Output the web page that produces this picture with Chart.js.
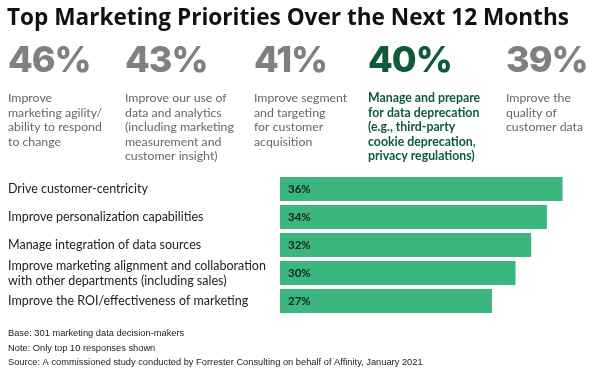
<!DOCTYPE html>
<html>
<head>
<meta charset="utf-8">
<script src="https://cdn.jsdelivr.net/npm/chart.js@4/dist/chart.umd.min.js"></script>
<style>
  html, body { margin: 0; padding: 0; background: #fff; }
  #wrap { position: relative; width: 600px; height: 375px; }
</style>
</head>
<body>
<div id="wrap"><canvas id="chart" width="600" height="375"></canvas></div>
<script>
/* ------------------------------------------------ */

let TITLE = 'Top Marketing Priorities Over the Next 12 Months';

// top five priorities (big numbers)
let topValues = [46, 43, 41, 40, 39];
let topLabels = [
  ['Improve', 'marketing agility/', 'ability to respond', 'to change'],
  ['Improve our use of', 'data and analytics', '(including marketing', 'measurement and', 'customer insight)'],
  ['Improve segment', 'and targeting', 'for customer', 'acquisition'],
  ['Manage and prepare', 'for data deprecation', '(e.g., third-party', 'cookie deprecation,', 'privacy regulations)'],
  ['Improve the', 'quality of', 'customer data'],
];
let topHighlight = 3;

// priorities 6-10 (bars)
let categories = [
  'Drive customer-centricity',
  'Improve personalization capabilities',
  'Manage integration of data sources',
  ['Improve marketing alignment and collaboration', 'with other departments (including sales)'],
  'Improve the ROI/effectiveness of marketing',
];
let values = [36, 34, 32, 30, 27];

let notes = [
  'Base: 301 marketing data decision-makers',
  'Note: Only top 10 responses shown',
  'Source: A commissioned study conducted by Forrester Consulting on behalf of Affinity, January 2021',
];

/* ------------------------------------------------ */

let GREEN = '#3bb67f';
let DARK_GREEN = '#0e5a3b';
let GRAY = '#808080';

let textPlugin = {
  id: 'textPlugin',
  afterDraw(chart) {
    let ctx = chart.ctx;
    ctx.save();
    ctx.textBaseline = 'alphabetic';
    ctx.textAlign = 'left';

    // title
    ctx.fillStyle = '#111';
    ctx.font = 'bold 22.6px "Open Sans"';
    ctx.fillText(TITLE, 7, 25);

    // big numbers + descriptions
    let colX = [8, 125, 254, 368, 506];
    topValues.forEach((v, i) => {
      let hl = i == topHighlight;
      ctx.fillStyle = hl ? DARK_GREEN : GRAY;
      ctx.font = '800 36px Inter';
      ctx.letterSpacing = '-1px';
      ctx.fillText(v + '%', colX[i], 72);
      ctx.letterSpacing = '0px';
      ctx.fillStyle = hl ? DARK_GREEN : '#666';
      ctx.font = (hl ? 'bold ' : '') + '12.3px Lato';
      topLabels[i].forEach((line, j) => {
        ctx.fillText(line, colX[i], 102 + j * 14.6);
      });
    });

    // bar value labels
    let meta = chart.getDatasetMeta(0);
    ctx.fillStyle = '#17241c';
    ctx.font = 'bold 11.5px Lato';
    ctx.textBaseline = 'middle';
    meta.data.forEach((bar, i) => {
      ctx.fillText(values[i] + '%', bar.base + 8, bar.y);
    });

    // footnotes
    ctx.textBaseline = 'alphabetic';
    ctx.fillStyle = '#222';
    ctx.font = '9.3px "Liberation Sans"';
    notes.forEach((n, i) => {
      ctx.fillText(n, 8, 336 + i * 14.7);
    });
    ctx.restore();
  }
};

function generateChart() {
  let ctx = document.getElementById('chart').getContext('2d');
  let config = {
    type: 'bar',
    data: {
      labels: categories,
      datasets: [{
        data: values,
        backgroundColor: GREEN,
        borderWidth: 0,
        barPercentage: 0.86,
        categoryPercentage: 1,
      }],
    },
    options: {
      indexAxis: 'y',
      responsive: false,
      animation: false,
      layout: { padding: { left: 8, top: 175, bottom: 60, right: 6 } },
      plugins: {
        legend: { display: false },
        tooltip: { enabled: false },
      },
      scales: {
        x: { display: false, min: 0, max: 40 },
        y: {
          border: { display: false },
          grid: { display: false },
          afterFit: (axis) => { axis.width = 272; },
          ticks: {
            autoSkip: false,
            crossAlign: 'far',
            color: '#222',
            font: { family: 'Lato', size: 12.5, lineHeight: 1.2 },
          },
        },
      },
    },
    plugins: [textPlugin],
  };
  chart = new Chart(ctx, config);
}

let chart;
generateChart();
</script>
</body>
</html>
